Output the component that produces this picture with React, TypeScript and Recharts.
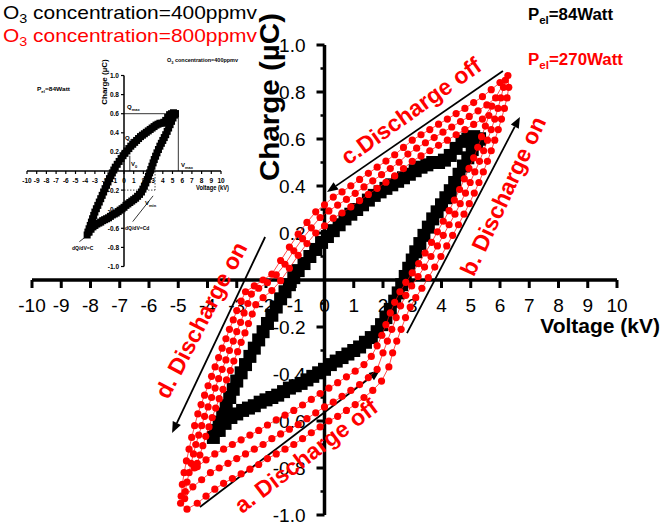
import React from 'react';
import { ScatterChart, Scatter, XAxis, YAxis, ReferenceLine, ReferenceDot } from 'recharts';

type Pt = [number, number];

const FONT = '"Liberation Sans", Arial, Helvetica, sans-serif';
const RED = '#ff0000';

// Q–V loop, O3 400 ppmv, Pel = 84 W  [voltage kV, charge µC]
const loop400: Pt[] = [
  [5.3, 0.6], [5.1, 0.61], [4.9, 0.6], [4.7, 0.59], [4.5, 0.56], [4.3, 0.53], [4.1, 0.51], [3.9, 0.5],
  [3.7, 0.5], [3.5, 0.49], [3.3, 0.48], [3.1, 0.465], [2.9, 0.45], [2.7, 0.435], [2.5, 0.42], [2.3, 0.405],
  [2.1, 0.39], [1.9, 0.375], [1.7, 0.36], [1.5, 0.34], [1.3, 0.32], [1.1, 0.3], [0.9, 0.28], [0.7, 0.26],
  [0.5, 0.235], [0.3, 0.21], [0.1, 0.185], [-0.1, 0.16], [-0.3, 0.13], [-0.5, 0.1], [-0.7, 0.07], [-0.9, 0.04],
  [-1.05, 0.01], [-1.2, -0.02], [-1.35, -0.05], [-1.5, -0.08], [-1.65, -0.115], [-1.8, -0.15], [-1.95, -0.185],
  [-2.1, -0.22], [-2.25, -0.255], [-2.4, -0.29], [-2.55, -0.325], [-2.7, -0.36], [-2.85, -0.395], [-3.0, -0.43],
  [-3.12, -0.465], [-3.24, -0.5], [-3.36, -0.535], [-3.48, -0.57], [-3.6, -0.605], [-3.72, -0.64], [-3.8, -0.67],
  [-3.6, -0.64], [-3.4, -0.61], [-3.2, -0.585], [-3.0, -0.57], [-2.8, -0.555], [-2.6, -0.545], [-2.4, -0.535],
  [-2.2, -0.52], [-2.0, -0.51], [-1.8, -0.5], [-1.6, -0.49], [-1.4, -0.475], [-1.2, -0.46], [-1.0, -0.45],
  [-0.8, -0.44], [-0.6, -0.425], [-0.4, -0.41], [-0.2, -0.395], [0.0, -0.38], [0.2, -0.36], [0.4, -0.345],
  [0.6, -0.33], [0.8, -0.315], [1.0, -0.3], [1.2, -0.285], [1.4, -0.265], [1.6, -0.245], [1.8, -0.22],
  [1.95, -0.19], [2.1, -0.16], [2.25, -0.125], [2.4, -0.09], [2.52, -0.055], [2.64, -0.02], [2.76, 0.015],
  [2.88, 0.05], [3.0, 0.085], [3.12, 0.12], [3.26, 0.155], [3.4, 0.19], [3.55, 0.225], [3.7, 0.26],
  [3.85, 0.29], [4.0, 0.32], [4.15, 0.35], [4.3, 0.38], [4.45, 0.415], [4.6, 0.45], [4.75, 0.485],
  [4.9, 0.52], [5.05, 0.555], [5.2, 0.585], [5.3, 0.6],
];

// Q–V loop, O3 800 ppmv, Pel = 270 W: three successive periods
const loop800a: Pt[] = [
  [-4.92, -0.95], [-4.7, -0.975], [-4.35, -0.95], [-4.05, -0.92], [-3.75, -0.89], [-3.45, -0.865], [-3.15, -0.845],
  [-2.85, -0.825], [-2.55, -0.805], [-2.25, -0.785], [-1.95, -0.76], [-1.65, -0.74], [-1.35, -0.72], [-1.05, -0.7],
  [-0.75, -0.675], [-0.45, -0.65], [-0.15, -0.625], [0.15, -0.6], [0.45, -0.58], [0.75, -0.555], [1.05, -0.53],
  [1.35, -0.5], [1.65, -0.47], [1.95, -0.43], [2.2, -0.37],
  [2.33, -0.31], [2.47, -0.26], [2.62, -0.21], [2.77, -0.16], [2.93, -0.115], [3.12, -0.075], [3.33, -0.035],
  [3.55, 0.01], [3.77, 0.055], [3.98, 0.1], [4.18, 0.145], [4.38, 0.19], [4.58, 0.235], [4.77, 0.28],
  [4.95, 0.325], [5.12, 0.37], [5.28, 0.415], [5.43, 0.46], [5.57, 0.505], [5.7, 0.55], [5.82, 0.595],
  [5.94, 0.64], [6.05, 0.685], [6.15, 0.73], [6.24, 0.775], [6.3, 0.82], [6.27, 0.87],
  [6.0, 0.84], [5.7, 0.81], [5.4, 0.78], [5.1, 0.755], [4.8, 0.73], [4.5, 0.708], [4.2, 0.685], [3.9, 0.663],
  [3.6, 0.64], [3.3, 0.618], [3.0, 0.595], [2.7, 0.564], [2.4, 0.533], [2.1, 0.506], [1.8, 0.48], [1.5, 0.454],
  [1.2, 0.428], [0.9, 0.401], [0.6, 0.375], [0.3, 0.353], [0.0, 0.32], [-0.3, 0.29], [-0.6, 0.245],
  [-0.9, 0.195], [-1.2, 0.14], [-1.5, 0.083], [-1.8, 0.025], [-2.1, 0.0], [-2.4, -0.025],
  [-2.7, -0.05], [-2.85, -0.09], [-3.0, -0.13], [-3.12, -0.17], [-3.25, -0.21], [-3.37, -0.25], [-3.5, -0.29],
  [-3.62, -0.33], [-3.74, -0.37], [-3.86, -0.41], [-3.98, -0.45], [-4.1, -0.49], [-4.22, -0.53], [-4.33, -0.57],
  [-4.44, -0.62], [-4.54, -0.67], [-4.63, -0.72], [-4.72, -0.77], [-4.8, -0.82], [-4.86, -0.87], [-4.9, -0.92],
];

const loop800b: Pt[] = [
  [-4.78, -0.93], [-4.5, -0.88], [-4.2, -0.85], [-3.9, -0.82], [-3.6, -0.8], [-3.3, -0.78], [-3.0, -0.76],
  [-2.7, -0.74], [-2.4, -0.72], [-2.1, -0.7], [-1.8, -0.675], [-1.5, -0.655], [-1.2, -0.635], [-0.9, -0.615],
  [-0.6, -0.59], [-0.3, -0.565], [0.0, -0.54], [0.3, -0.52], [0.6, -0.495], [0.9, -0.47], [1.2, -0.445],
  [1.5, -0.415], [1.8, -0.38],
  [2.0, -0.31], [2.15, -0.26], [2.3, -0.21], [2.45, -0.16], [2.6, -0.11], [2.78, -0.065], [2.98, -0.025],
  [3.2, 0.015], [3.42, 0.055], [3.64, 0.1], [3.86, 0.145], [4.06, 0.19], [4.26, 0.235], [4.46, 0.28],
  [4.64, 0.325], [4.82, 0.37], [4.98, 0.415], [5.14, 0.46], [5.3, 0.505], [5.44, 0.55], [5.57, 0.595],
  [5.7, 0.64], [5.82, 0.685], [5.93, 0.73], [6.03, 0.775], [6.12, 0.82], [6.18, 0.85],
  [5.85, 0.775], [5.55, 0.745], [5.25, 0.72], [4.95, 0.696], [4.65, 0.674], [4.35, 0.651], [4.05, 0.629],
  [3.75, 0.606], [3.45, 0.584], [3.15, 0.561], [2.85, 0.536], [2.55, 0.501], [2.25, 0.474], [1.95, 0.448],
  [1.65, 0.422], [1.35, 0.396], [1.05, 0.369], [0.75, 0.343], [0.45, 0.319], [0.15, 0.294], [-0.15, 0.266],
  [-0.45, 0.222], [-0.75, 0.176], [-1.05, 0.124], [-1.35, 0.067], [-1.65, 0.022], [-1.95, -0.011],
  [-2.25, -0.035], [-2.5, -0.06],
  [-2.62, -0.1], [-2.75, -0.14], [-2.87, -0.18], [-3.0, -0.22], [-3.12, -0.26], [-3.25, -0.3], [-3.37, -0.34],
  [-3.5, -0.38], [-3.62, -0.42], [-3.74, -0.46], [-3.86, -0.5], [-3.98, -0.54], [-4.1, -0.58], [-4.2, -0.62],
  [-4.3, -0.66], [-4.4, -0.7], [-4.48, -0.74], [-4.56, -0.78], [-4.63, -0.82], [-4.7, -0.86], [-4.76, -0.9],
];

const loop800c: Pt[] = [
  [-4.45, -0.8], [-4.35, -0.795], [-4.05, -0.765], [-3.75, -0.74], [-3.45, -0.72], [-3.15, -0.7], [-2.85, -0.68],
  [-2.55, -0.66], [-2.25, -0.64], [-1.95, -0.617], [-1.65, -0.595], [-1.35, -0.575], [-1.05, -0.555],
  [-0.75, -0.532], [-0.45, -0.508], [-0.15, -0.483], [0.15, -0.46], [0.45, -0.437], [0.75, -0.412],
  [1.05, -0.388], [1.35, -0.36], [1.6, -0.325],
  [1.8, -0.28], [1.96, -0.235], [2.1, -0.19], [2.25, -0.14], [2.4, -0.095], [2.58, -0.05], [2.78, -0.01],
  [3.0, 0.03], [3.22, 0.07], [3.44, 0.115], [3.66, 0.16], [3.86, 0.205], [4.06, 0.25], [4.26, 0.295],
  [4.44, 0.34], [4.62, 0.385], [4.78, 0.43], [4.94, 0.475], [5.1, 0.52], [5.24, 0.565], [5.37, 0.61],
  [5.5, 0.655], [5.62, 0.7], [5.72, 0.74],
  [5.4, 0.685], [5.1, 0.662], [4.8, 0.64], [4.5, 0.618], [4.2, 0.595], [3.9, 0.573], [3.6, 0.55], [3.3, 0.528],
  [3.0, 0.505], [2.7, 0.474], [2.4, 0.443], [2.1, 0.416], [1.8, 0.39], [1.5, 0.364], [1.2, 0.338], [0.9, 0.311],
  [0.6, 0.285], [0.3, 0.263], [0.0, 0.23], [-0.3, 0.2], [-0.6, 0.155], [-0.9, 0.105], [-1.2, 0.05],
  [-1.5, -0.003], [-1.8, -0.045], [-2.1, -0.075], [-2.35, -0.105],
  [-2.47, -0.145], [-2.6, -0.185], [-2.72, -0.225], [-2.85, -0.265], [-2.97, -0.305], [-3.1, -0.345],
  [-3.22, -0.385], [-3.35, -0.425], [-3.47, -0.465], [-3.6, -0.505], [-3.72, -0.545], [-3.84, -0.585],
  [-3.95, -0.625], [-4.06, -0.665], [-4.16, -0.705], [-4.26, -0.745], [-4.35, -0.78],
];

const xTicks = [-10, -9, -8, -7, -6, -5, -4, -3, -2, -1, 0, 1, 2, 3, 4, 5, 6, 7, 8, 9, 10];
const yMajor = [1.0, 0.8, 0.6, 0.4, 0.2, -0.2, -0.4, -0.6, -0.8, -1.0];
const yMinor = [0.9, 0.7, 0.5, 0.3, 0.1, -0.1, -0.3, -0.5, -0.7, -0.9];

// discharge-phase arrows, [tail, head] in (kV, µC)
const phaseArrows: [Pt, Pt][] = [
  [[6.1, 0.889], [0.085, 0.374]],
  [[2.82, -0.226], [6.68, 0.694]],
  [[-2.03, 0.183], [-5.21, -0.651]],
  [[-4.26, -0.966], [1.9, -0.383]],
];

// construction lines of the small Q–V diagram
const insetLines: [Pt, Pt][] = [
  [[0, 0.6], [5.6, 0.6]],
  [[5.6, 0.6], [5.6, 0]],
  [[0.6, 0.16], [0.6, 0]],
];
const insetDotted: [Pt, Pt][] = [
  [[3.2, 0], [3.2, -0.2]],
  [[0, -0.2], [3.2, -0.2]],
];
const insetSlopes: [Pt, Pt][] = [
  [[0.9, -0.53], [3.0, -0.26]],
  [[-4.6, -0.74], [-2.2, -0.55]],
];

const toPts = (a: Pt[]) => a.map(([v, q]) => ({ v, q }));

const square = (s: number) => (p: any) => (
  <rect x={p.cx - s / 2} y={p.cy - s / 2} width={s} height={s} fill="#000" />
);
const redDot = (p: any) => <circle cx={p.cx} cy={p.cy} r={3.6} fill={RED} />;

const arrowShape = (p: any) => {
  const { x1, y1, x2, y2 } = p;
  const dx = x2 - x1;
  const dy = y2 - y1;
  const len = Math.hypot(dx, dy) || 1;
  const ux = dx / len;
  const uy = dy / len;
  const L = 11;
  const W = 4.5;
  const bx = x2 - ux * L;
  const by = y2 - uy * L;
  return (
    <g>
      <line x1={x1} y1={y1} x2={bx} y2={by} stroke="#000" strokeWidth={1.8} />
      <polygon
        points={`${x2},${y2} ${bx - uy * W},${by + ux * W} ${bx + uy * W},${by - ux * W}`}
        fill="#000"
      />
    </g>
  );
};

const fmtY = (v: number) => v.toFixed(1);

function MainPlot() {
  return (
    <ScatterChart width={662} height={524} margin={{ top: 45, right: 45, bottom: 9, left: 32 }}>
      <XAxis type="number" dataKey="v" domain={[-10, 10]} hide allowDataOverflow />
      <YAxis type="number" dataKey="q" domain={[-1, 1]} hide allowDataOverflow />

      {xTicks.map((t) => (
        <ReferenceDot
          key={'xt' + t}
          x={t}
          y={0}
          ifOverflow="visible"
          shape={(p: any) => (
            <g>
              <line x1={p.cx} y1={p.cy} x2={p.cx} y2={p.cy + 8} stroke="#000" strokeWidth={3} />
              <text x={p.cx} y={p.cy + 32} textAnchor="middle" fontSize={19} fontFamily={FONT} fill="#000">
                {t}
              </text>
            </g>
          )}
        />
      ))}
      {yMajor.map((t) => (
        <ReferenceDot
          key={'yt' + t}
          x={0}
          y={t}
          ifOverflow="visible"
          shape={(p: any) => (
            <g>
              <line x1={p.cx - 8} y1={p.cy} x2={p.cx} y2={p.cy} stroke="#000" strokeWidth={3} />
              <text x={p.cx - 19} y={p.cy + 6.5} textAnchor="end" fontSize={19} fontFamily={FONT} fill="#000">
                {fmtY(t)}
              </text>
            </g>
          )}
        />
      ))}
      {yMinor.map((t) => (
        <ReferenceDot
          key={'ym' + t}
          x={0}
          y={t}
          ifOverflow="visible"
          shape={(p: any) => (
            <line x1={p.cx - 4} y1={p.cy} x2={p.cx} y2={p.cy} stroke="#000" strokeWidth={2.5} />
          )}
        />
      ))}

      <Scatter
        data={toPts(loop400)}
        shape={square(13)}
        line={{ stroke: '#000', strokeWidth: 0.6 }}
        isAnimationActive={false}
      />
      <Scatter data={toPts(loop800a)} shape={redDot} line={{ stroke: RED, strokeWidth: 0.7 }} isAnimationActive={false} />
      <Scatter data={toPts(loop800b)} shape={redDot} line={{ stroke: RED, strokeWidth: 0.7 }} isAnimationActive={false} />
      <Scatter data={toPts(loop800c)} shape={redDot} line={{ stroke: RED, strokeWidth: 0.7 }} isAnimationActive={false} />

      <ReferenceLine y={0} stroke="#000" strokeWidth={3.5} ifOverflow="visible" />
      <ReferenceLine x={0} stroke="#000" strokeWidth={3.5} ifOverflow="visible" />

      {phaseArrows.map(([a, b], i) => (
        <ReferenceLine
          key={'arr' + i}
          segment={[{ x: a[0], y: a[1] }, { x: b[0], y: b[1] }]}
          ifOverflow="visible"
          shape={arrowShape}
        />
      ))}
    </ScatterChart>
  );
}

function InsetPlot() {
  return (
    <ScatterChart width={250} height={230} margin={{ top: 25.5, right: 29, bottom: 13.5, left: 27 }}>
      <XAxis type="number" dataKey="v" domain={[-10, 10]} hide allowDataOverflow />
      <YAxis type="number" dataKey="q" domain={[-1, 1]} hide allowDataOverflow />

      {xTicks.map((t) => (
        <ReferenceDot
          key={'ixt' + t}
          x={t}
          y={0}
          ifOverflow="visible"
          shape={(p: any) => (
            <g>
              <line x1={p.cx} y1={p.cy} x2={p.cx} y2={p.cy + 3} stroke="#000" strokeWidth={1.2} />
              <text x={p.cx} y={p.cy + 12} textAnchor="middle" fontSize={6.5} fontWeight="bold" fontFamily={FONT} fill="#000">
                {t}
              </text>
            </g>
          )}
        />
      ))}
      {yMajor.map((t) => (
        <ReferenceDot
          key={'iyt' + t}
          x={0}
          y={t}
          ifOverflow="visible"
          shape={(p: any) => (
            <g>
              <line x1={p.cx - 3} y1={p.cy} x2={p.cx} y2={p.cy} stroke="#000" strokeWidth={1.2} />
              <text x={p.cx - 5} y={p.cy + 2.5} textAnchor="end" fontSize={6.5} fontWeight="bold" fontFamily={FONT} fill="#000">
                {fmtY(t)}
              </text>
            </g>
          )}
        />
      ))}

      {insetLines.map(([a, b], i) => (
        <ReferenceLine
          key={'il' + i}
          segment={[{ x: a[0], y: a[1] }, { x: b[0], y: b[1] }]}
          stroke="#000"
          strokeWidth={0.8}
          ifOverflow="visible"
        />
      ))}
      {insetDotted.map(([a, b], i) => (
        <ReferenceLine
          key={'id' + i}
          segment={[{ x: a[0], y: a[1] }, { x: b[0], y: b[1] }]}
          stroke="#000"
          strokeWidth={0.7}
          strokeDasharray="1.5 1.5"
          ifOverflow="visible"
        />
      ))}
      {insetSlopes.map(([a, b], i) => (
        <ReferenceLine
          key={'is' + i}
          segment={[{ x: a[0], y: a[1] }, { x: b[0], y: b[1] }]}
          stroke="#000"
          strokeWidth={0.8}
          ifOverflow="visible"
        />
      ))}

      <Scatter
        data={toPts(loop400)}
        shape={square(7)}
        line={{ stroke: '#000', strokeWidth: 0.4 }}
        isAnimationActive={false}
      />

      <ReferenceLine y={0} stroke="#000" strokeWidth={1.5} ifOverflow="visible" />
      <ReferenceLine x={0} stroke="#000" strokeWidth={1.5} ifOverflow="visible" />
    </ScatterChart>
  );
}

function Labels() {
  const rotated = (x: number, y: number, a: number, s: string) => (
    <text
      transform={`translate(${x},${y}) rotate(${a})`}
      textAnchor="middle"
      dominantBaseline="central"
      fontSize={23}
      fontWeight="bold"
      fontFamily={FONT}
      fill={RED}
    >
      {s}
    </text>
  );
  return (
    <svg width={662} height={524} style={{ position: 'absolute', left: 0, top: 0, pointerEvents: 'none' }}>
      <text x={3} y={18.5} fontSize={19} fontFamily={FONT} fill="#000" textLength={254} lengthAdjust="spacingAndGlyphs">
        O<tspan fontSize={13} dy={4}>3</tspan>
        <tspan dy={-4}> concentration=400ppmv</tspan>
      </text>
      <text x={3} y={42} fontSize={19} fontFamily={FONT} fill={RED} textLength={254} lengthAdjust="spacingAndGlyphs">
        O<tspan fontSize={13} dy={4}>3</tspan>
        <tspan dy={-4}> concentration=800ppmv</tspan>
      </text>

      <text x={528} y={19.5} fontSize={16} fontWeight="bold" fontFamily={FONT} fill="#000" textLength={85} lengthAdjust="spacingAndGlyphs">
        P<tspan fontSize={11} dy={4}>el</tspan>
        <tspan dy={-4}>=84Watt</tspan>
      </text>
      <text x={528} y={64.5} fontSize={16} fontWeight="bold" fontFamily={FONT} fill={RED} textLength={95} lengthAdjust="spacingAndGlyphs">
        P<tspan fontSize={11} dy={4}>el</tspan>
        <tspan dy={-4}>=270Watt</tspan>
      </text>

      <text
        transform="translate(279,97) rotate(-90)"
        textAnchor="middle"
        fontSize={27}
        fontWeight="bold"
        fontFamily={FONT}
        fill="#000"
        textLength={168}
        lengthAdjust="spacingAndGlyphs"
      >
        Charge (µC)
      </text>
      <text x={660} y={333} textAnchor="end" fontSize={21} fontWeight="bold" fontFamily={FONT} fill="#000">
        Voltage (kV)
      </text>

      {rotated(411, 111, -35.5, 'c.Discharge off')}
      {rotated(503, 196, -65, 'b. Discharge on')}
      {rotated(201, 320, -62.5, 'd. Discharge on')}
      {rotated(306, 456, -37, 'a. Discharge off')}

      <g fontFamily={FONT} fontWeight="bold" fill="#000">
        <text x={167} y={62} fontSize={5.5} textLength={71} lengthAdjust="spacingAndGlyphs">
          O<tspan fontSize={4} dy={1.5}>3</tspan>
          <tspan dy={-1.5}> concentration=400ppmv</tspan>
        </text>
        <text x={37} y={91} fontSize={6} textLength={33} lengthAdjust="spacingAndGlyphs">
          P<tspan fontSize={4} dy={1.5}>el</tspan>
          <tspan dy={-1.5}>=84Watt</tspan>
        </text>
        <text transform="translate(107,82) rotate(-90)" textAnchor="middle" fontSize={8}>
          Charge (µC)
        </text>
        <text x={196} y={190} fontSize={6.5} textLength={33} lengthAdjust="spacingAndGlyphs">
          Voltage (kV)
        </text>
        <text x={127} y={109} fontSize={6}>
          Q<tspan fontSize={4} dy={1.5}>max</tspan>
        </text>
        <text x={125} y={140} fontSize={6}>
          Q<tspan fontSize={4} dy={1.5}>0</tspan>
        </text>
        <text x={131} y={166} fontSize={6}>
          V<tspan fontSize={4} dy={1.5}>0</tspan>
        </text>
        <text x={181} y={167} fontSize={6}>
          V<tspan fontSize={4} dy={1.5}>max</tspan>
        </text>
        <text x={145} y={205} fontSize={6}>
          V<tspan fontSize={4} dy={1.5}>min</tspan>
        </text>
        <text x={125} y={230} fontSize={5}>
          dQ/dV=Cd
        </text>
        <text x={72} y={250} fontSize={5}>
          dQ/dV=C
        </text>
      </g>
    </svg>
  );
}

export default function App() {
  return (
    <div style={{ position: 'absolute', left: 0, top: 0, width: 662, height: 524, background: '#fff' }}>
      <div style={{ position: 'absolute', left: 0, top: 0 }}>
        <MainPlot />
      </div>
      <div style={{ position: 'absolute', left: 0, top: 50 }}>
        <InsetPlot />
      </div>
      <Labels />
    </div>
  );
}
